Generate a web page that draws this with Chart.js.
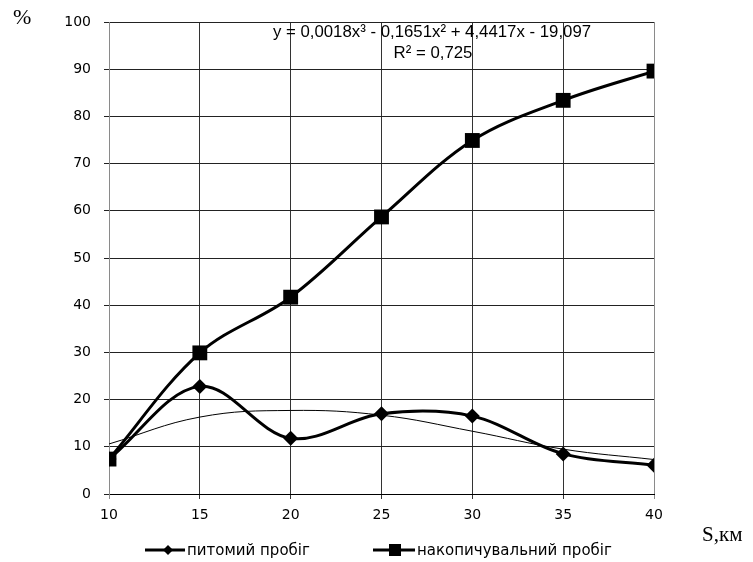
<!DOCTYPE html>
<html>
<head>
<meta charset="utf-8">
<script src="https://cdn.jsdelivr.net/npm/chart.js@4.4.1/dist/chart.umd.min.js"></script>
<style>
  html, body { margin: 0; padding: 0; background: #fff; }
  #wrap { position: relative; width: 753px; height: 562px; }
</style>
</head>
<body>
<div id="wrap"><canvas id="c" width="753" height="562"></canvas></div>
<script>
// ---- data ----
const distances = [10, 15, 20, 25, 30, 35, 40];          // S, км
const specificRun = [7.4, 22.8, 11.8, 17.0, 16.5, 8.5, 6.1];    // питомий пробіг, %
const cumulativeRun = [7.4, 29.9, 41.7, 58.7, 74.9, 83.4, 89.6]; // накопичувальний пробіг, %
const trendRun = [10.6, 16.3, 17.7, 16.7, 13.3, 9.5, 7.3];       // polynomial trend
const seriesNames = ['питомий пробіг', 'накопичувальний пробіг'];
const equationText = 'y = 0,0018x³ - 0,1651x² + 4,4417x - 19,097';
const r2Text = 'R² = 0,725';
const yLabel = '%';
const xLabel = 'S,км';

const toPts = arr => distances.map((x, i) => ({ x: x, y: arr[i] }));

const overlay = {
  id: 'overlay',
  afterDraw(chart) {
    const ctx = chart.ctx;
    ctx.save();
    ctx.fillStyle = '#000';
    ctx.textBaseline = 'middle';
    // axis captions
    ctx.font = '22px "Liberation Serif"';
    ctx.textAlign = 'left';
    ctx.fillText(yLabel, 13, 18);
    ctx.font = '21px "Liberation Serif"';
    ctx.fillText(xLabel, 702, 535);
    // trendline equation
    ctx.font = '16.8px "Liberation Sans"';
    ctx.textAlign = 'center';
    ctx.fillText(equationText, 432, 32);
    ctx.fillText(r2Text, 433, 53);
    // legend
    const ly = 550;
    ctx.strokeStyle = '#000';
    ctx.lineWidth = 3;
    ctx.beginPath(); ctx.moveTo(145, ly); ctx.lineTo(185, ly); ctx.stroke();
    ctx.beginPath();
    ctx.moveTo(168 - 5, ly); ctx.lineTo(168, ly - 5); ctx.lineTo(168 + 5, ly); ctx.lineTo(168, ly + 5);
    ctx.closePath(); ctx.fill();
    ctx.beginPath(); ctx.moveTo(373, ly); ctx.lineTo(415, ly); ctx.stroke();
    ctx.fillRect(395 - 6, ly - 6, 12, 12);
    ctx.font = '15px "DejaVu Sans"';
    ctx.textAlign = 'left';
    ctx.fillText(seriesNames[0], 187, ly + 1);
    ctx.fillText(seriesNames[1], 417, ly + 1);
    ctx.restore();
  }
};

new Chart(document.getElementById('c'), {
  type: 'scatter',
  data: {
    datasets: [
      {
        label: 'trend',
        data: toPts(trendRun),
        showLine: true,
        borderColor: '#000',
        borderWidth: 1,
        pointRadius: 0,
        tension: 0.4,
        order: 3
      },
      {
        label: seriesNames[0],
        data: toPts(specificRun),
        showLine: true,
        borderColor: '#000',
        backgroundColor: '#000',
        borderWidth: 3,
        pointStyle: 'rectRot',
        pointRadius: 7.5,
        pointBorderWidth: 0,
        tension: 0.35,
        order: 2
      },
      {
        label: seriesNames[1],
        data: toPts(cumulativeRun),
        showLine: true,
        borderColor: '#000',
        backgroundColor: '#000',
        borderWidth: 3,
        pointStyle: 'rect',
        pointRadius: 10.5,
        pointBorderWidth: 0,
        tension: 0.35,
        order: 1
      }
    ]
  },
  options: {
    responsive: false,
    animation: false,
    layout: { padding: { left: 0, right: 99, top: 22, bottom: 0 } },
    plugins: { legend: { display: false }, tooltip: { enabled: false } },
    scales: {
      x: {
        type: 'linear',
        min: 10, max: 40,
        afterFit(s) { s.height = 68; },
        ticks: { stepSize: 5, color: '#000', font: { family: 'DejaVu Sans', size: 14 }, padding: 8 },
        grid: {
          color: c => (c.tick && (c.tick.value === 10 || c.tick.value === 40)) ? '#8a8a8a' : '#333',
          lineWidth: 1, tickLength: 5
        },
        border: { color: '#000', width: 1 }
      },
      y: {
        min: 0, max: 100,
        afterFit(s) { s.width = 109; },
        ticks: { stepSize: 10, color: '#000', font: { family: 'DejaVu Sans', size: 14 }, padding: 13 },
        grid: { color: '#222', lineWidth: 1, tickLength: 5 },
        border: { color: '#8a8a8a', width: 1 }
      }
    }
  },
  plugins: [overlay]
});
</script>
</body>
</html>
